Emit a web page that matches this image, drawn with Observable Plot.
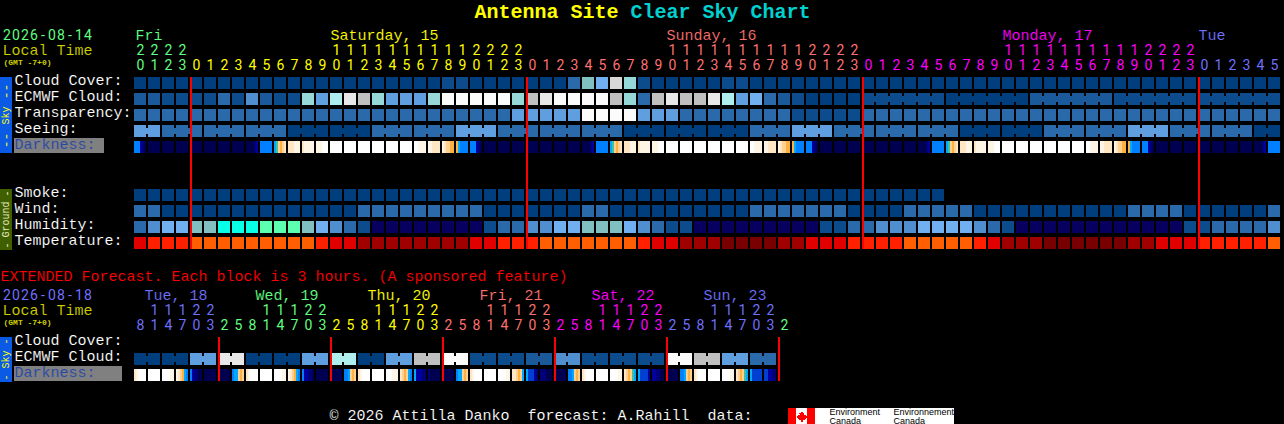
<!DOCTYPE html>
<html>
<head>
<meta charset="utf-8">
<script src="https://cdn.jsdelivr.net/npm/d3@7"></script>
<script src="https://cdn.jsdelivr.net/npm/@observablehq/plot@0.6"></script>
<style>
html,body{margin:0;padding:0;background:#000;}
svg{display:block;shape-rendering:crispEdges;}
svg text{shape-rendering:auto;}
</style>
</head>
<body>
<div id="chart"></div>
<script>
// ---- palettes (level -> colour) ----
const skyColors = ["#003e7e","#0c4c8c","#1a5a9a","#2a6aaa","#4f8fcf","#5f9fe0","#70b0f0","#80c0c0","#96d8d8","#aeeeee","#e8e8e8","#c0c0c0","#d8d8d8","#fbfbfb","#08ffe8","#5cffb0","#08005f"];
const tempColors = ["#780000","#a00000","#e00000","#ff2000","#ff5f00"];
const darkColors = ["#000050","#000078","#0000a0","#0040d0","#0080ff","#00a8ff","#40c0a0","#ffb040","#ffd090","#ffe6c4","#fff5e6","#ffffff"];

// ---- hourly rows (one level per hour) ----
const cloudCover = [0,0,0,0,0,0,0,0,0,0,0,0,0,0,0,0,0,0,0,0,0,0,1,1,0,0,0,0,0,0,0,3,7,6,12,8,1,0,0,0,0,0,1,1,0,0,0,0,0,0,0,0,0,0,0,0,0,0,0,0,0,0,0,0,0,0,0,0,0,0,0,0,0,0,0,0,0,0,0,0,0,0];
const ecmwfCloud = [2,2,1,1,1,1,3,1,4,2,1,1,8,5,9,10,11,8,5,5,5,8,13,13,13,13,13,8,11,10,13,13,13,13,11,8,3,11,10,11,11,10,9,5,6,3,2,1,0,0,0,0,1,1,1,1,1,1,0,0,0,0,0,0,2,2,2,2,2,2,1,1,1,1,1,1,1,1,1,1,1,1];
const transparency = [3,3,3,3,3,3,3,3,3,3,3,3,3,3,3,3,3,3,3,3,3,3,3,3,3,3,3,5,5,5,5,5,13,13,13,13,5,5,5,3,3,3,3,3,3,3,3,1,1,1,1,1,3,3,3,3,3,3,3,3,3,3,3,3,3,3,3,3,3,3,3,3,3,3,3,3,3,3,3,3,3,3];
const seeing = [5,5,3,3,3,3,3,3,3,3,3,0,0,0,0,0,0,3,3,3,3,3,3,5,5,5,3,3,3,3,3,3,3,3,3,0,0,0,0,0,0,0,0,0,3,3,3,5,5,5,3,3,3,3,3,3,3,3,3,0,0,0,0,0,0,3,3,3,3,3,3,5,5,5,3,3,3,3,3,3,0,0];
const smoke = [0,0,0,0,0,0,0,0,0,0,0,0,0,0,0,0,0,0,0,0,0,0,0,0,0,0,0,0,0,0,0,0,0,0,0,0,0,0,0,0,0,0,0,0,0,0,0,0,0,0,0,0,0,0,0,0,0,0];
const wind = [3,3,0,0,0,0,0,0,0,0,0,0,0,0,0,0,3,3,3,3,3,3,3,3,3,0,0,0,0,0,0,0,3,3,0,0,0,0,0,0,0,0,0,0,3,3,3,3,3,3,3,0,0,0,0,3,3,3,3,3,0,0,0,0,0,0,0,0,0,0,0,3,3,3,3,0,0,0,0,0,0,3];
const humidity = [3,4,6,6,7,7,14,14,14,15,15,15,7,6,4,3,1,16,16,16,16,16,16,16,16,1,3,3,4,4,6,6,7,7,7,6,4,3,1,1,16,16,16,16,16,16,16,16,16,1,1,3,3,4,4,4,6,6,6,6,4,3,1,16,16,16,16,16,16,16,16,16,16,16,16,1,1,3,3,3,3,4];
const temperature = [2,3,3,3,4,4,4,4,4,4,4,4,4,3,2,2,1,1,1,1,1,1,1,1,2,2,3,3,3,4,4,4,4,4,4,4,3,2,2,1,1,1,0,0,0,0,1,1,2,2,2,3,3,3,3,4,4,4,4,4,3,2,1,1,1,0,0,0,0,0,0,1,1,2,2,2,3,3,3,3,3,4];
const darkness = [
 [4,4,4,2,1,0],[0],[0],[0],[0],[0],[0],[0],[0,0,0,0,1,2],[4],[5,6,8,7,8,9],[9,9,9,10,10,10],[9,10,10,10,10,10],[10,10,10,11,11,11],[11],[11],[11],[11],[11],[11],[11,11,10,10,10,10],[10,10,9,9,9,9],[10,9,8,8,7,7],[7,5,4,4,4,4],
 [4,4,4,2,1,0],[0],[0],[0],[0],[0],[0],[0],[0,0,0,0,1,2],[4],[5,6,8,7,8,9],[9,9,9,10,10,10],[9,10,10,10,10,10],[10,10,10,11,11,11],[11],[11],[11],[11],[11],[11],[11,11,10,10,10,10],[10,10,9,9,9,9],[10,9,8,8,7,7],[7,5,4,4,4,4],
 [4,4,4,2,1,0],[0],[0],[0],[0],[0],[0],[0],[0,0,0,0,1,2],[4],[5,6,8,7,8,9],[9,9,9,10,10,10],[9,10,10,10,10,10],[10,10,10,11,11,11],[11],[11],[11],[11],[11],[11],[11,11,10,10,10,10],[10,10,9,9,9,9],[10,9,8,8,7,7],[7,5,4,4,4,4],
 [4,4,4,2,1,0],[0],[0],[0],[0],[0],[0],[0],[0,0,0,0,1,2],[4]
];
const seeingGroups = [[0,2],[2,5],[5,8],[8,11],[11,14],[14,17],[17,20],[20,23],[23,26],[26,29],[29,32],[32,35],[35,38],[38,41],[41,44],[44,47],[47,50],[50,53],[53,56],[56,59],[59,62],[62,65],[65,68],[68,71],[71,74],[74,77],[77,80],[80,82]];
const ecmwfGroups = [[52,58],[58,64],[64,70],[70,76],[76,82]];

// ---- extended forecast ----
const extEcmwf = [0,0,5,10,0,0,5,9,0,5,11,13,1,1,2,4,1,1,1,13,11,5,3];
const extDarkness = [
 [9,10,11,11,11,11],[11],[11,11,11,11,10,10],[10,9,8,7,5,4],[4,2,1,1,0,0],[0],[0],[4,5,5,8,7,8],
 [9,10,11,11,11,11],[11],[11,11,11,11,10,10],[10,9,8,7,5,4],[4,2,2,1,1,0],[0],[0],[4,4,5,8,7,8],
 [9,10,11,11,11,11],[11],[11,11,11,10,10,10],[9,8,7,8,5,4],[5,2,2,2,1,1],[1,0,0,0,0,0],[0],[4,5,5,8,7,8],
 [9,10,11,11,11,11],[11],[11,11,11,11,10,10],[9,9,8,7,8,5],[5,3,3,3,2,1],[1,1,1,0,0,0],[0],[4,4,5,8,7,8],
 [9,10,11,11,11,11],[11],[11,11,11,11,10,10],[9,8,7,8,6,5],[5,3,3,3,3,2],[2,2,1,1,0,0],[0],[4,4,5,8,7,8],
 [9,10,11,11,11,11],[11],[11,11,11,11,10,10],[9,8,7,8,6,5],[5,3,3,3,3,3],[3,3,2,2,1,1]
];

// ---- tick labels ----
const dayColors = {fri:"#60ff80",sat:"#ffff00",sun:"#ff7070",mon:"#ff00ff",tue:"#7070ff"};
const mainHourUnits = "0123"+"012345678901234567890123"+"012345678901234567890123"+"012345678901234567890123"+"012345";
const mainHourTens  = "2222"+"          11111111112222"+"          11111111112222"+"          11111111112222"+"      ";
const extHourUnits  = "814703"+"25814703"+"25814703"+"25814703"+"25814703"+"25814703"+"2";
const extHourTens   = " 11122"+"   11122"+"   11122"+"   11122"+"   11122"+"   11122"+" ";
const mainDays = [[0,4,dayColors.fri],[4,28,dayColors.sat],[28,52,dayColors.sun],[52,76,dayColors.mon],[76,82,dayColors.tue]];
const extDays = [[0,6,dayColors.tue],[6,14,dayColors.fri],[14,22,dayColors.sat],[22,30,dayColors.sun],[30,38,dayColors.mon],[38,46,dayColors.tue],[46,47,dayColors.fri]];
const midnightRules = [4,28,52,76];
const extRules = [6,14,22,30,38,46];

// ---- layout: column and row space used by the x and y scales ----
const colW = 14, rowH = 16, gridLeft = 134, gridTop = 77;
const xCol = px => (px - gridLeft) / colW;
const yRow = py => (py - gridTop) / rowH;
const rows = {cloud:0, ecmwf:1, transp:2, seeing:3, dark:4, smoke:7, wind:8, hum:9, temp:10, xcloud:16.25, xecmwf:17.25, xdark:18.25};

const cells = (arr, row, palette) => arr.map((v,i)=>({col:i, row, fill:palette[v]}));
const groupCells = (arr, row, palette, groups) => groups.flatMap(([a,b])=>d3.range(a,b-1).map(c=>({col:c,row,fill:palette[arr[c]]})));
const strips = (arr,row,palette) => arr.flatMap((s,i)=>s.map((v,k)=>({a:i+(12/14)*k/s.length,b:i+12/14,row,fill:palette[v]})));

const extCells = extEcmwf.flatMap((v,b)=>[{col:2*b,row:rows.xecmwf,fill:skyColors[v]},{col:2*b+1,row:rows.xecmwf,fill:skyColors[v]}]);
const extJoin = extEcmwf.map((v,b)=>({col:2*b,row:rows.xecmwf,fill:skyColors[v]}));

const solid = [
 ...cells(cloudCover,rows.cloud,skyColors),
 ...cells(ecmwfCloud,rows.ecmwf,skyColors),
 ...cells(transparency,rows.transp,skyColors),
 ...cells(seeing,rows.seeing,skyColors),
 ...cells(smoke,rows.smoke,skyColors),
 ...cells(wind,rows.wind,skyColors),
 ...cells(humidity,rows.hum,skyColors),
 ...cells(temperature,rows.temp,tempColors),
 ...extCells
];
const joins = [
 ...groupCells(seeing,rows.seeing,skyColors,seeingGroups),
 ...groupCells(ecmwfCloud,rows.ecmwf,skyColors,ecmwfGroups),
 ...extJoin
];
const darkStrips = [...strips(darkness,rows.dark,darkColors),...strips(extDarkness,rows.xdark,darkColors)];

// ---- text ----
const mono = "'Liberation Mono', monospace";
const thin = "Roboto, sans-serif";
const lift = 2;
const L = (text,px,py,color,bg="#000")=>({text,x:xCol(px),y:yRow(py-lift),color,bg});
const grid = (text,px,py,color)=>text.split("").map((t,i)=>L(t,px+4.5+9*i,py,color));
const labels = [
 L("Local Time",2,56,"#d0d000"),
 L("Fri",135,41,dayColors.fri), L("Saturday, 15",330,41,dayColors.sat), L("Sunday, 16",666,41,dayColors.sun), L("Monday, 17",1002,41,dayColors.mon), L("Tue",1198,41,dayColors.tue),
 L("Cloud Cover:",14,86,"#fff"),L("ECMWF Cloud:",14,102,"#fff"),L("Transparency:",14,118,"#fff"),L("Seeing:",14,134,"#fff"),L("Darkness:",14,150,"#2848a8","#808080"),
 L("Smoke:",14,198,"#fff"),L("Wind:",14,214,"#fff"),L("Humidity:",14,230,"#fff"),L("Temperature:",14,246,"#fff"),
 L("EXTENDED Forecast. Each block is 3 hours. (A sponsored feature)",0,282,"#ff0000"),
 L("Local Time",2,316,"#d0d000"),
 L("Tue, 18",144,301,dayColors.tue), L("Wed, 19",255,301,dayColors.fri), L("Thu, 20",367,301,dayColors.sat), L("Fri, 21",479,301,dayColors.sun), L("Sat, 22",591,301,dayColors.mon), L("Sun, 23",703,301,dayColors.tue),
 L("Cloud Cover:",14,346,"#fff"),L("ECMWF Cloud:",14,362,"#fff"),L("Darkness:",14,378,"#2848a8","#808080"),
 L("© 2026 Attilla Danko  forecast: A.Rahill  data:",329,421,"#fff")
];
const dates = [...grid("2026-08-14",2,41,dayColors.fri),...grid("2026-08-18",2,301,dayColors.tue)];
const digitRow = (str,py,days)=>str.split("").map((t,i)=>({t,i})).filter(d=>d.t!==" ").map(d=>({text:d.t,x:d.i,y:yRow(py-lift),color:(days.find(g=>d.i>=g[0]&&d.i<g[1])||[])[2]}));
const digits = [
 ...digitRow(mainHourTens,56,mainDays),...digitRow(mainHourUnits,71,mainDays),
 ...digitRow(extHourTens,316,extDays),...digitRow(extHourUnits,331,extDays)
];
const title = [L("Antenna Site",474,19,"#ffff00"),L("Clear Sky Chart",630,19,"#00d0d0")];
const gmt = [L("(GMT -7+0)",3,66,"#d0d000"),L("(GMT -7+0)",3,326,"#d0d000")];

const R = (x1,x2,y1,y2,fill)=>({x1:xCol(x1),x2:xCol(x2),y1:yRow(y1),y2:yRow(y2),fill});
const panels = [
 R(0,12,77,153,"#0a5ae6"),R(0,12,189,250,"#406000"),R(0,12,337,382,"#0a5ae6"),
 R(14,104,138,153,"#808080"),R(14,122,366,381,"#808080"),
 R(788,796,408,424,"#ff0000"),R(796,807,408,424,"#ffffff"),R(807,815,408,424,"#ff0000"),R(815,954,408,424,"#ffffff")
];
const sideText = [
 {text:"--",x:xCol(5.5),y:yRow(91),color:"#ffff00",fs:13},{text:"Sky",x:xCol(5.5),y:yRow(115),color:"#ffff00",fs:10},{text:"--",x:xCol(5.5),y:yRow(140),color:"#ffff00",fs:13},
 {text:"-",x:xCol(5.5),y:yRow(193),color:"#e8e8c0",fs:11},{text:"Ground",x:xCol(5.5),y:yRow(219),color:"#e8e8c0",fs:10},{text:"-",x:xCol(5.5),y:yRow(245),color:"#e8e8c0",fs:11},
 {text:"-",x:xCol(5.5),y:yRow(341),color:"#ffff00",fs:10},{text:"Sky",x:xCol(5.5),y:yRow(359),color:"#ffff00",fs:10},{text:"-",x:xCol(5.5),y:yRow(377),color:"#ffff00",fs:10}
];
const logoText = [
 L("Environment",829,416,"#000"),L("Canada",829,425,"#000"),L("Environnement",893,416,"#000"),L("Canada",893,425,"#000")
];
const leafOutline = [[0,-1],[.2,-.55],[.45,-.65],[.35,-.2],[.8,-.3],[.7,-.05],[1,.1],[.55,.45],[.6,.65],[.1,.55],[.08,1],[-.08,1],[-.1,.55],[-.6,.65],[-.55,.45],[-1,.1],[-.7,-.05],[-.8,-.3],[-.35,-.2],[-.45,-.65],[-.2,-.55]];
const leaf = {draw(ctx,size){const r=Math.sqrt(size/Math.PI);leafOutline.forEach(([a,b],i)=>i?ctx.lineTo(a*r,b*r):ctx.moveTo(a*r,b*r));ctx.closePath();}};

const chart = Plot.plot({
 width:1284,height:424,margin:0,
 style:{background:"#000",overflow:"hidden"},
 x:{type:"linear",domain:[xCol(0),xCol(1284)],range:[0,1284],axis:null},
 y:{type:"linear",domain:[yRow(0),yRow(424)],range:[0,424],axis:null},
 color:{type:"identity"},
 marks:[
  Plot.rect(panels,{x1:"x1",x2:"x2",y1:"y1",y2:"y2",fill:"fill"}),
  Plot.rect(solid,{x1:"col",x2:d=>d.col+1,y1:"row",y2:d=>d.row+1,fill:"fill",insetRight:2,insetBottom:4}),
  Plot.rect(joins,{x1:"col",x2:d=>d.col+2,y1:"row",y2:d=>d.row+1,fill:"fill",insetRight:2,insetTop:3,insetBottom:7}),
  Plot.rect(darkStrips,{x1:"a",x2:"b",y1:"row",y2:d=>d.row+1,fill:"fill",insetBottom:4}),
  Plot.ruleX(midnightRules,{y1:0,y2:10.75,stroke:"#ff0000",strokeWidth:2}),
  Plot.ruleX(extRules,{y1:rows.xcloud,y2:19,stroke:"#ff0000",strokeWidth:2}),
  Plot.text(labels,{x:"x",y:"y",text:"text",fill:"color",stroke:"bg",strokeWidth:0.12,paintOrder:"normal",textAnchor:"start",lineAnchor:"bottom",fontFamily:mono,fontSize:15}),
  Plot.text(dates,{x:"x",y:"y",text:"text",fill:"color",textAnchor:"middle",lineAnchor:"bottom",fontFamily:thin,fontSize:14}),
  Plot.text(digits,{x:"x",y:"y",text:"text",fill:"color",dx:6,textAnchor:"middle",lineAnchor:"bottom",fontFamily:thin,fontSize:14}),
  Plot.text(title,{x:"x",y:"y",text:"text",fill:"color",textAnchor:"start",lineAnchor:"bottom",fontFamily:mono,fontSize:20,fontWeight:"bold"}),
  Plot.text(gmt,{x:"x",y:"y",text:"text",fill:"color",textAnchor:"start",lineAnchor:"bottom",fontFamily:mono,fontSize:8,fontWeight:"bold"}),
  Plot.text(sideText,{x:"x",y:"y",text:"text",fill:"color",fontSize:"fs",rotate:-90,textAnchor:"middle",lineAnchor:"middle",fontFamily:mono}),
  Plot.dot([{x:xCol(801.5),y:yRow(416)}],{x:"x",y:"y",r:6,symbol:leaf,fill:"#ff0000"}),
  Plot.text(logoText,{x:"x",y:"y",text:"text",fill:"color",textAnchor:"start",lineAnchor:"bottom",fontFamily:"'Liberation Sans', sans-serif",fontSize:9})
 ]
});
document.getElementById("chart").appendChild(chart);
</script>
</body>
</html>
